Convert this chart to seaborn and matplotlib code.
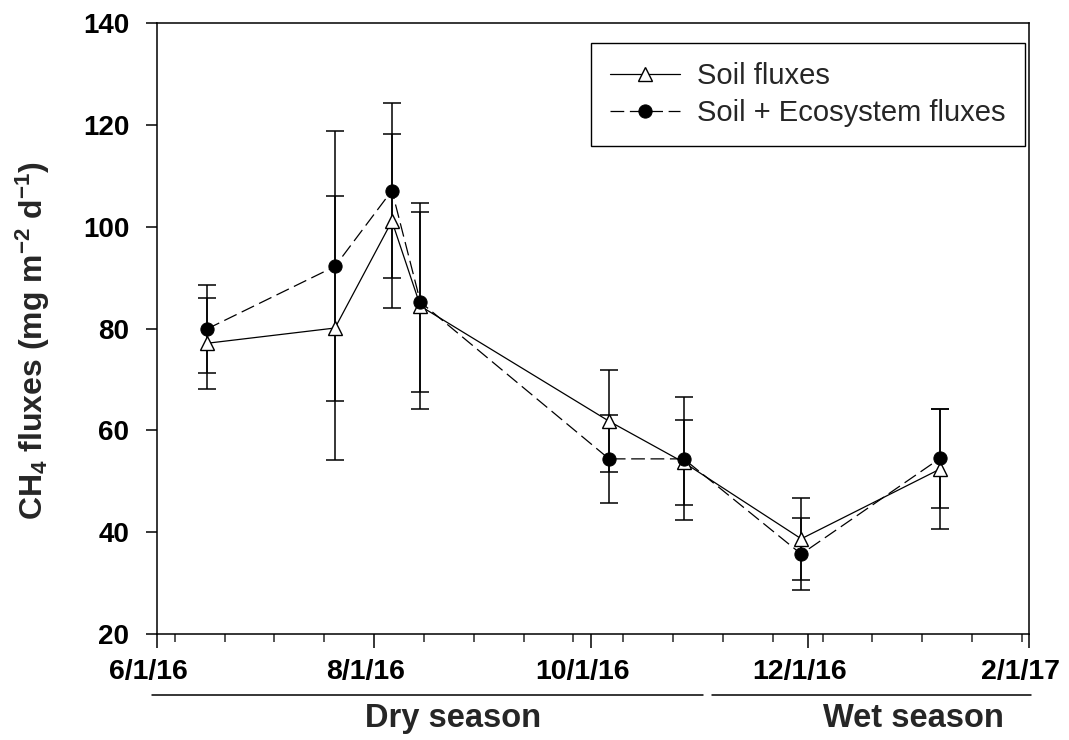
import matplotlib
matplotlib.use("Agg")
import matplotlib.pyplot as plt
import matplotlib.dates as mdates
import matplotlib.transforms as mtransforms
from matplotlib.ticker import FuncFormatter, FixedLocator
import numpy as np
import pandas as pd
import seaborn as sns

# sampling dates and CH4 fluxes (mg m-2 d-1), mean +/- error
dates = ["2016-06-15", "2016-07-21", "2016-08-06", "2016-08-14",
         "2016-10-06", "2016-10-27", "2016-11-29", "2017-01-07"]
soil = [77.1, 80.1, 101.1, 84.4, 61.8, 53.7, 38.7, 52.4]
soil_err = [8.9, 26.0, 17.1, 20.3, 10.0, 8.4, 8.0, 11.7]
eco = [79.9, 92.2, 107.1, 85.2, 54.4, 54.4, 35.7, 54.5]
eco_err = [8.6, 26.5, 17.2, 17.6, 8.7, 12.1, 7.0, 9.7]

season_names = ["Dry season", "Wet season"]

sns.set_theme(style="ticks")
plt.rcParams["font.family"] = ["Liberation Sans", "DejaVu Sans"]
plt.rcParams["font.weight"] = "bold"
plt.rcParams["mathtext.fontset"] = "custom"
plt.rcParams["mathtext.rm"] = "Liberation Sans:bold"
plt.rcParams["mathtext.it"] = "Liberation Sans:bold"
plt.rcParams["mathtext.bf"] = "Liberation Sans:bold"

df = pd.DataFrame({"date": pd.to_datetime(dates), "soil": soil, "eco": eco})

fig = plt.figure(figsize=(10.69, 7.4), dpi=100)
ax = fig.add_axes([0.1469, 0.1432, 0.8157, 0.8257])

# error bars under the markers
ax.errorbar(df["date"], df["soil"], yerr=soil_err, fmt="none", ecolor="black",
            elinewidth=1.1, capsize=6.5, capthick=1.1, zorder=2)
ax.errorbar(df["date"], df["eco"], yerr=eco_err, fmt="none", ecolor="black",
            elinewidth=1.1, capsize=6.5, capthick=1.1, zorder=2)

sns.lineplot(data=df, x="date", y="soil", ax=ax, color="black", lw=0.9,
             marker="^", markersize=9.5, markerfacecolor="white",
             markeredgecolor="black", markeredgewidth=1.0, zorder=3)
sns.lineplot(data=df, x="date", y="eco", ax=ax, color="black", lw=0.9,
             linestyle=(0, (11, 4.5)), marker="o", markersize=9.5,
             markerfacecolor="black", markeredgecolor="black", zorder=4)

lines = ax.get_lines()
h_soil = [l for l in lines if l.get_marker() == "^"][0]
h_eco = [l for l in lines if l.get_marker() == "o"][0]

ax.set_ylim(20, 140)
ax.set_yticks(np.arange(20, 141, 20))
ax.set_xlim(pd.Timestamp("2016-06-01"), pd.Timestamp("2017-02-01"))
ax.xaxis.set_major_locator(mdates.MonthLocator(bymonth=[2, 4, 6, 8, 10, 12], bymonthday=1))
ax.xaxis.set_major_formatter(FuncFormatter(
    lambda v, pos: "{d.month}/{d.day}/{d:%y}".format(d=mdates.num2date(v))))
ax.xaxis.set_minor_locator(FixedLocator(
    mdates.date2num(pd.date_range("2016-06-06", "2017-02-01", freq="14D"))))

ax.set_xlabel("")
ax.set_ylabel("CH$_4$ fluxes (mg m$^{-2}$ d$^{-1}$)", fontsize=23, fontweight="bold")
ax.yaxis.set_label_coords(-0.12, 0.481)

ax.tick_params(axis="y", which="major", direction="out", length=8, width=1.1,
               labelsize=20, pad=12, colors="black")
ax.tick_params(axis="x", which="major", direction="out", length=10, width=1.1,
               labelsize=20.5, pad=8, colors="black")
ax.tick_params(axis="x", which="minor", direction="out", length=6, width=1.1)
ax.tick_params(top=False, right=False)
for s in ax.spines.values():
    s.set_visible(True)
    s.set_linewidth(1.1)
    s.set_color("black")

# date labels sit a little left of their ticks in the original
shift = mtransforms.ScaledTranslation(-0.09, 0, fig.dpi_scale_trans)
for lbl in ax.xaxis.get_majorticklabels():
    lbl.set_transform(lbl.get_transform() + shift)

leg = ax.legend([h_soil, h_eco], ["Soil fluxes", "Soil + Ecosystem fluxes"],
                loc="upper right", bbox_to_anchor=(0.995, 0.967), borderaxespad=0,
                prop={"weight": "normal", "size": 21}, handlelength=2.4,
                handletextpad=0.6, borderpad=0.65, labelspacing=0.3,
                fancybox=False, framealpha=1, edgecolor="black")
leg.get_frame().set_linewidth(1.0)

# season bars under the date axis
ax.plot([-0.006, 0.626], [-0.0995, -0.0995], transform=ax.transAxes,
        clip_on=False, color="black", lw=1.1)
ax.plot([0.637, 1.002], [-0.0995, -0.0995], transform=ax.transAxes,
        clip_on=False, color="black", lw=1.1)
ax.text(0.340, -0.139, season_names[0], transform=ax.transAxes, ha="center",
        va="center", fontsize=23.5, fontweight="bold")
ax.text(0.867, -0.139, season_names[1], transform=ax.transAxes, ha="center",
        va="center", fontsize=23.5, fontweight="bold")

fig.savefig("out.png", dpi=100)
